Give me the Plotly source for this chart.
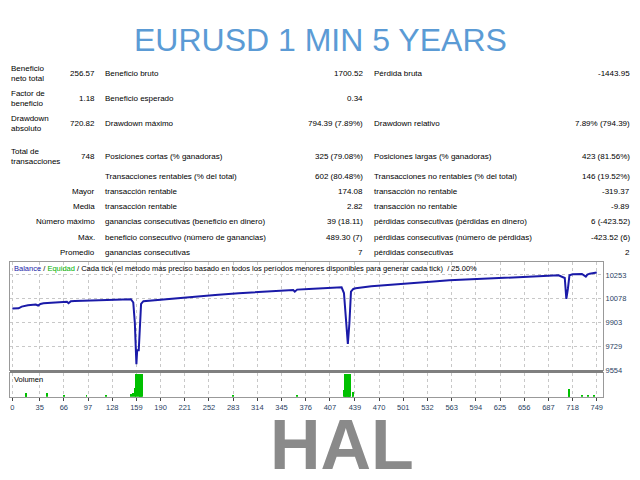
import plotly.graph_objects as go

# ---- data ----
bal_x = [0, 5, 8, 12, 16, 20, 30, 33, 36, 40, 50, 60, 70, 72, 75, 80, 90, 100, 110, 120, 130, 140, 148, 152, 155, 157, 159, 160, 162, 164, 165, 168, 180, 200, 230, 260, 290, 310, 340, 360, 362, 365, 380, 400, 418, 422, 425, 428, 430, 432, 434, 437, 440, 460, 480, 500, 520, 540, 560, 580, 600, 620, 640, 660, 680, 700, 708, 710, 712, 714, 718, 730, 735, 737, 740, 749]
bal_y = [10006, 10005, 10008, 10020, 10025, 10030, 10035, 10028, 10040, 10045, 10048, 10052, 10055, 10045, 10060, 10062, 10064, 10068, 10070, 10072, 10074, 10076, 10077, 10075, 10050, 9900, 9597, 9700, 9700, 9900, 10040, 10060, 10066, 10080, 10090, 10105, 10118, 10125, 10135, 10142, 10130, 10145, 10150, 10158, 10165, 10162, 10120, 9900, 9747, 9900, 10130, 10150, 10155, 10170, 10180, 10188, 10195, 10205, 10213, 10218, 10225, 10230, 10236, 10242, 10248, 10250, 10230, 10077, 10150, 10250, 10258, 10260, 10240, 10255, 10262, 10270]
vol_x = [17, 18, 44, 66, 95, 120, 152, 155, 157, 159, 161, 163, 164, 165, 166, 283, 365, 425, 426, 427, 428, 429, 430, 431, 432, 433, 436, 437, 713, 714, 730, 738, 745]
vol_y = [1, 1.5, 1.5, 0.5, 0.5, 0.5, 1, 1.5, 4, 10, 10, 10, 10, 10, 10, 0.5, 0.5, 3, 10, 10, 10, 10, 10, 10, 10, 10, 1.5, 2, 1.5, 3.5, 0.5, 0.5, 0.5]
xtick_vals = [0, 35, 66, 97, 128, 159, 190, 221, 252, 283, 314, 345, 376, 407, 439, 470, 501, 532, 563, 594, 625, 656, 687, 718, 749]
ytick_vals = [9554, 9729, 9903, 10078, 10253]

rows = [
    (74, "Beneficio<br>neto total", "256.57", "Beneficio bruto", "1700.52", "Pérdida bruta", "-1443.95"),
    (100, "Factor de<br>beneficio", "1.18", "Beneficio esperado", "0.34", "", ""),
    (125, "Drawdown<br>absoluto", "720.82", "Drawdown máximo", "794.39 (7.89%)", "Drawdown relativo", "7.89% (794.39)"),
    (158, "Total de<br>transacciones", "748", "Posiciones cortas (% ganadoras)", "325 (79.08%)", "Posiciones largas (% ganadoras)", "423 (81.56%)"),
    (178, "", "", "Transacciones rentables (% del total)", "602 (80.48%)", "Transacciones no rentables (% del total)", "146 (19.52%)"),
]
rows2 = [
    (194, "Mayor", "transacción rentable", "174.08", "transacción no rentable", "-319.37"),
    (209, "Media", "transacción rentable", "2.82", "transacción no rentable", "-9.89"),
    (224, "Número máximo", "ganancias consecutivas (beneficio en dinero)", "39 (18.11)", "pérdidas consecutivas (pérdidas en dinero)", "6 (-423.52)"),
    (240, "Máx.", "beneficio consecutivo (número de ganancias)", "489.30 (7)", "pérdidas consecutivas (número de pérdidas)", "-423.52 (6)"),
    (255, "Promedio", "ganancias consecutivas", "7", "pérdidas consecutivas", "2"),
]

W, H = 640, 480
def px(x): return x / W
def py(y): return 1 - y / H

fig = go.Figure()
fig.add_trace(go.Scatter(x=bal_x, y=bal_y, mode="lines", line=dict(color="#1a1aa8", width=2), xaxis="x", yaxis="y", showlegend=False))
fig.add_trace(go.Bar(x=vol_x, y=vol_y, marker_color="#00c000", marker_line_width=0, width=1.2, xaxis="x2", yaxis="y2", showlegend=False))

ann = []
F = "Liberation Sans"
def t(x, y, s, anchor="left", size=8, color="black"):
    ann.append(dict(x=px(x), y=py(y), xref="paper", yref="paper", text=s, showarrow=False,
                    xanchor=anchor, yanchor="middle", align=anchor, font=dict(family=F, size=size, color=color)))
for y, a, b, c, d, e, f in rows:
    if a: t(9, y, a)
    if b: t(97, y, b, "right")
    if c: t(103, y, c)
    if d: t(365, y, d, "right")
    if e: t(372, y, e)
    if f: t(632, y, f, "right")
for y, a, c, d, e, f in rows2:
    t(97, y, a, "right"); t(103, y, c); t(365, y, d, "right"); t(372, y, e); t(632, y, f, "right")

t(320, 40, "EURUSD 1 MIN 5 YEARS", "center", 32, "#5b9bd5")
t(342, 450, "<b>HAL</b>", "center", 70, "#8a8a8a")
ann.append(dict(x=px(12), y=py(271), xref="paper", yref="paper", showarrow=False, xanchor="left", yanchor="middle",
                font=dict(family=F, size=7.5, color="black"),
                text="<span style='color:#1a1aa8'>Balance</span> / <span style='color:#00b000'>Equidad</span> / Cada tick (el método más preciso basado en todos los períodos menores disponibles para generar cada tick)  / 25.00%"))
t(12, 383, "Volumen", size=7.5)

grid = dict(showgrid=True, gridcolor="#c8c8c8", griddash="dot", gridwidth=1)
fig.update_layout(
    width=W, height=H, margin=dict(l=0, r=0, t=0, b=0), paper_bgcolor="white", plot_bgcolor="white",
    annotations=ann, bargap=0,
    xaxis=dict(domain=[px(10), px(603)], range=[-3, 757], anchor="y", showticklabels=False, tickvals=xtick_vals, **grid,
               showline=True, linecolor="#999", mirror=True, zeroline=False),
    yaxis=dict(domain=[py(374), py(265)], range=[9554, 10346], side="right", tickvals=ytick_vals, tickformat="d", **grid,
               tickfont=dict(family=F, size=7.5), showline=True, linecolor="#999", mirror=True, zeroline=False, ticks=""),
    xaxis2=dict(domain=[px(10), px(603)], range=[-3, 757], anchor="y2", tickvals=xtick_vals, **grid,
                tickfont=dict(family=F, size=7.5), showline=True, linecolor="#999", mirror=True, zeroline=False, ticks="outside", ticklen=3),
    yaxis2=dict(domain=[py(401), py(377)], range=[0, 10.5], side="right", showticklabels=False, showgrid=False,
                showline=True, linecolor="#999", mirror=True, zeroline=False),
    shapes=[dict(type="rect", xref="paper", yref="paper", x0=px(10), x1=px(603), y0=py(377), y1=py(374),
                 fillcolor="#808080", line_width=0)],
)
fig.write_html("out.html", config={"displayModeBar": False},
               post_script="document.body.style.margin='0';document.body.style.overflow='hidden';")
